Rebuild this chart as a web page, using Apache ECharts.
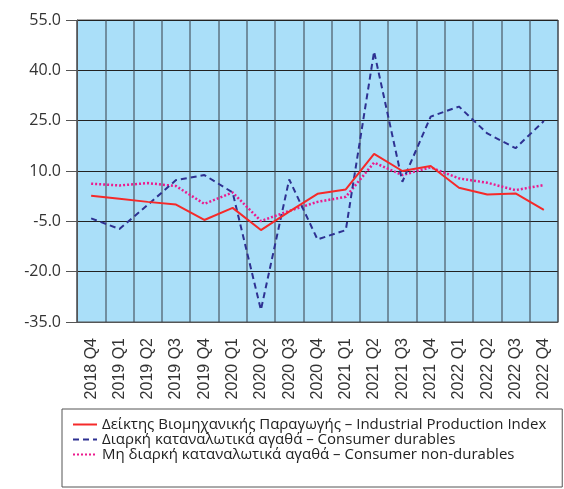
<!DOCTYPE html>
<html>
<head>
<meta charset="utf-8">
<script src="https://cdn.jsdelivr.net/npm/echarts@6/dist/echarts.min.js"></script>
<style>
  html, body { margin: 0; padding: 0; background: #fff; }
  #chart { width: 564px; height: 489px; }
</style>
</head>
<body>
<div id="chart"></div>
<script>
var categories = ['2018 Q4', '2019 Q1', '2019 Q2', '2019 Q3', '2019 Q4', '2020 Q1', '2020 Q2', '2020 Q3', '2020 Q4',
  '2021 Q1', '2021 Q2', '2021 Q3', '2021 Q4', '2022 Q1', '2022 Q2', '2022 Q3', '2022 Q4'];

var seriesNames = [
  'Δείκτης Βιομηχανικής Παραγωγής – Industrial Production Index',
  'Διαρκή καταναλωτικά αγαθά – Consumer durables',
  'Μη διαρκή καταναλωτικά αγαθά – Consumer non-durables'
];

var industrial = [2.6, 1.7, 0.8, 0.0, -4.6, -1.0, -7.6, -2.1, 3.2, 4.5, 15.1, 10.0, 11.5, 5.0, 3.0, 3.3, -1.6];
var durables = [-4.1, -7.3, -0.1, 7.3, 8.8, 3.6, -31.4, 7.5, -10.4, -7.6, 45.6, 6.8, 26.2, 29.2, 21.2, 16.8, 24.9];
var nonDurables = [6.2, 5.7, 6.4, 5.5, 0.2, 3.6, -4.9, -1.9, 0.8, 2.3, 12.5, 8.8, 11.1, 7.8, 6.5, 4.3, 5.8];

var yMin = -35, yMax = 55, yStep = 15;

var chart = echarts.init(document.getElementById('chart'));

var option = {
  animation: false,
  grid: {
    left: 77,
    right: 6,
    top: 20,
    bottom: 167,
    show: true,
    backgroundColor: '#aadff9',
    borderColor: '#555',
    borderWidth: 1
  },
  legend: {
    orient: 'vertical',
    left: 62,
    top: 409,
    padding: [8, 16, 25, 10],
    borderColor: '#555',
    borderWidth: 1,
    itemWidth: 24,
    itemHeight: 10,
    itemGap: 0,
    itemStyle: { opacity: 0 },
    textStyle: {
      fontFamily: 'Open Sans',
      fontSize: 15,
      lineHeight: 14,
      color: '#222'
    },
    data: seriesNames
  },
  xAxis: {
    type: 'category',
    data: categories,
    boundaryGap: true,
    axisLine: { onZero: false, lineStyle: { color: '#555', width: 1 } },
    axisTick: { show: false },
    axisLabel: {
      rotate: 90,
      interval: 0,
      margin: 16,
      fontFamily: 'Liberation Sans',
      fontSize: 16,
      color: '#333'
    },
    splitLine: {
      show: true,
      interval: 0,
      lineStyle: { color: 'rgba(60,70,80,0.7)', width: 1.5 }
    }
  },
  yAxis: {
    type: 'value',
    min: yMin,
    max: yMax,
    interval: yStep,
    axisLine: { show: true, lineStyle: { color: '#555', width: 1 } },
    axisTick: { show: true, length: 11, lineStyle: { color: '#555' } },
    axisLabel: {
      margin: 16,
      fontFamily: 'Open Sans',
      fontSize: 16,
      color: '#333',
      formatter: function (v) { return v.toFixed(1); }
    },
    splitLine: { lineStyle: { color: '#222', width: 1 } }
  },
  series: [
    {
      name: seriesNames[0],
      type: 'line',
      data: industrial,
      symbol: 'none',
      z: 4,
      lineStyle: { color: '#f52a2a', width: 2 },
      itemStyle: { color: '#f52a2a' }
    },
    {
      name: seriesNames[1],
      type: 'line',
      data: durables,
      symbol: 'none',
      z: 3,
      lineStyle: { color: '#2e3192', width: 2, type: [6, 4] },
      itemStyle: { color: '#2e3192' }
    },
    {
      name: seriesNames[2],
      type: 'line',
      data: nonDurables,
      symbol: 'none',
      z: 2,
      lineStyle: { color: '#ec1a8d', width: 2.5, type: [2, 2] },
      itemStyle: { color: '#ec1a8d' }
    }
  ]
};

option && chart.setOption(option);
</script>
</body>
</html>
